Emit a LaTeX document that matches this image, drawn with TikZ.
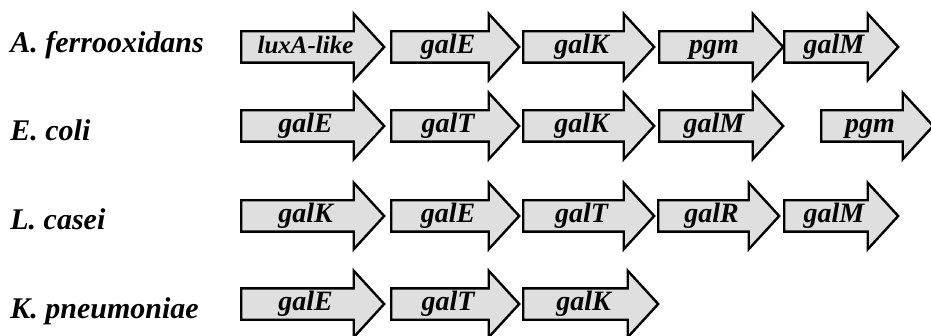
\documentclass[tikz,border=0pt]{standalone}
\usepackage{fontspec}
\setmainfont{Liberation Serif}
\usetikzlibrary{shapes.arrows}

\begin{document}
\begin{tikzpicture}[
      x=0.5pt, y=-0.5pt,
      species/.style={anchor=west, inner sep=0pt, font=\fontsize{15}{18}\selectfont\bfseries\itshape},
      gene/.style={single arrow, draw=black, line width=1.2pt, fill=gray!25,
        minimum width=32.5pt, single arrow head extend=8.75pt, single arrow tip angle=95,
        inner ysep=1pt, inner xsep=1pt, text height=9.5pt, text depth=3pt,
        anchor=tail, font=\fontsize{14}{16}\selectfont\bfseries\itshape}
    ]
      \useasboundingbox (0,0) rectangle (931,336);

      % species names
      \node[species] (af) at (10,45) {A. ferrooxidans};
      \node[species] (ec) at (10,130) {E. coli};
      \node[species] (lc) at (10,219) {L. casei};
      \node[species] (kp) at (10,311) {K. pneumoniae};

      % A. ferrooxidans
      \node[gene, minimum height=71.5pt, font=\fontsize{12.5}{15}\selectfont\bfseries\itshape] (af1) at (240,47) {luxA-like};
      \node[gene, minimum height=64pt] (af2) at (390,47) {galE};
      \node[gene, minimum height=65.5pt] (af3) at (522,47) {galK};
      \node[gene, minimum height=62pt] (af4) at (658,47) {pgm};
      \node[gene, minimum height=57pt] (af5) at (783,47) {galM};

      % E. coli
      \node[gene, minimum height=71.5pt] (ec1) at (240,126) {galE};
      \node[gene, minimum height=64pt] (ec2) at (390,126) {galT};
      \node[gene, minimum height=65.5pt] (ec3) at (522,126) {galK};
      \node[gene, minimum height=62pt] (ec4) at (658,126) {galM};
      \node[gene, minimum height=56pt] (ec5) at (820,126) {pgm};

      % L. casei
      \node[gene, minimum height=71.5pt] (lc1) at (240,216) {galK};
      \node[gene, minimum height=64pt] (lc2) at (390,216) {galE};
      \node[gene, minimum height=65.5pt] (lc3) at (522,216) {galT};
      \node[gene, minimum height=60.5pt] (lc4) at (657,216) {galR};
      \node[gene, minimum height=57pt] (lc5) at (783,216) {galM};

      % K. pneumoniae
      \node[gene, minimum height=71.5pt] (kp1) at (240,304) {galE};
      \node[gene, minimum height=64pt] (kp2) at (390,304) {galT};
      \node[gene, minimum height=67.5pt] (kp3) at (522,304) {galK};
    \end{tikzpicture}
\end{document}
